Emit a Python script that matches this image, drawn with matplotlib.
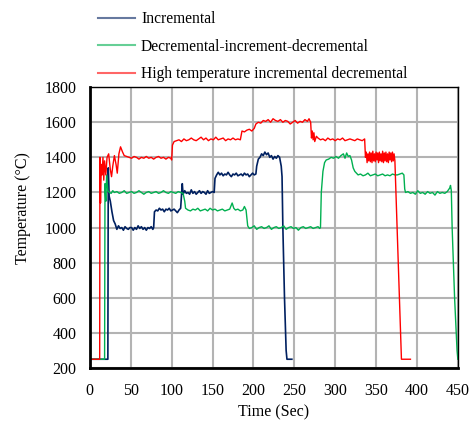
import matplotlib.pyplot as plt

plt.rcParams['font.family'] = ['Liberation Serif', 'DejaVu Serif']

# Incremental
inc_t = [0, 22, 22.5, 23.5, 25, 27, 29, 31, 33, 35, 37, 39, 41, 43, 45, 47, 49, 51, 53, 55, 57, 59,
         61, 63, 65, 67, 69, 71, 73, 75, 77, 78, 79, 81, 83, 85, 87, 89, 91, 93, 95, 97, 99, 101,
         103, 105, 107, 109, 111, 112, 113, 114, 116, 118, 120, 122, 124, 126, 128, 130, 132, 134,
         136, 138, 140, 142, 144, 146, 148, 150, 152, 153, 155, 157, 159, 161, 163, 165, 167, 169,
         171, 173, 175, 177, 179, 181, 183, 185, 187, 189, 191, 193, 195, 197, 199, 201, 203, 204,
         206, 208, 210, 212, 214, 216, 218, 220, 222, 224, 226, 228, 230, 232, 234, 235, 236, 238,
         240, 241, 247]
inc_v = [250, 250, 1340, 1180, 1150, 1090, 1040, 1020, 990, 1010, 995, 1000, 985, 1005, 995, 990,
         1000, 1000, 985, 1000, 990, 1010, 995, 1005, 990, 1000, 985, 1000, 995, 1005, 990, 1000,
         1090, 1100, 1095, 1110, 1100, 1105, 1090, 1105, 1100, 1110, 1095, 1100, 1105, 1095, 1085,
         1100, 1110, 1180, 1250, 1190, 1210, 1195, 1200, 1190, 1215, 1195, 1205, 1190, 1200, 1210,
         1195, 1205, 1200, 1190, 1210, 1195, 1200, 1205, 1200, 1280, 1300, 1315, 1300, 1310, 1295,
         1305, 1300, 1315, 1300, 1290, 1305, 1300, 1310, 1295, 1300, 1305, 1295, 1310, 1300, 1305,
         1290, 1300, 1310, 1300, 1305, 1350, 1390, 1400, 1420, 1410, 1430, 1415, 1425, 1400, 1410,
         1390, 1405, 1395, 1410, 1400, 1350, 1290, 1000, 600, 300, 250, 250]

# Decremental-increment-decremental
dec_t = [0, 18, 18.5, 19.5, 20.5, 22, 24, 26, 28, 30, 33, 36, 39, 42, 45, 48, 51, 54, 57, 60, 63,
         66, 69, 72, 75, 78, 81, 84, 87, 90, 93, 96, 99, 102, 105, 108, 111, 114, 116, 117, 120,
         123, 126, 129, 132, 135, 138, 141, 144, 147, 150, 153, 156, 159, 162, 165, 168, 171, 174,
         176, 178, 181, 184, 187, 189, 191, 193, 195, 198, 201, 204, 207, 210, 213, 216, 219, 222,
         225, 228, 231, 234, 237, 240, 243, 246, 249, 252, 255, 258, 261, 264, 267, 270, 273, 276,
         279, 281, 282, 283, 285, 287, 289, 292, 295, 298, 301, 304, 307, 310, 312, 314, 316, 318,
         320, 322, 324, 326, 328, 331, 334, 337, 340, 343, 346, 349, 352, 355, 358, 361, 364, 367,
         370, 373, 376, 379, 382, 384, 385, 386, 389, 392, 395, 398, 401, 404, 407, 410, 413, 416,
         419, 422, 425, 428, 431, 434, 437, 440, 441, 442, 443, 446, 449, 450]
dec_v = [250, 250, 1250, 1150, 1300, 1210, 1200, 1195, 1210, 1200, 1205, 1195, 1200, 1210, 1195,
         1200, 1205, 1195, 1200, 1210, 1200, 1190, 1200, 1205, 1195, 1200, 1205, 1195, 1200, 1210,
         1200, 1195, 1205, 1200, 1195, 1205, 1200, 1195, 1150, 1110, 1100, 1095, 1105, 1100, 1110,
         1095, 1100, 1105, 1095, 1110, 1100, 1105, 1095, 1100, 1105, 1095, 1100, 1105, 1140, 1110,
         1100, 1105, 1095, 1100, 1120, 1100, 1010, 995, 1000, 1010, 990, 1000, 1005, 995, 1000,
         1010, 990, 1000, 1005, 995, 1000, 1010, 990, 1000, 1005, 995, 1000, 985, 1000, 1005, 995,
         1000, 1005, 995, 1000, 1005, 995, 1000, 1200, 1320, 1370, 1385, 1390, 1400, 1395, 1405,
         1395, 1410, 1420, 1395, 1425, 1405, 1410, 1385, 1340, 1320, 1310, 1300, 1305, 1295, 1300,
         1310, 1295, 1300, 1305, 1295, 1300, 1305, 1295, 1300, 1295, 1305, 1300, 1300, 1305, 1310,
         1300, 1220, 1200, 1205, 1195, 1200, 1190, 1210, 1195, 1200, 1190, 1205, 1195, 1200, 1185,
         1205, 1195, 1200, 1195, 1205, 1225, 1240, 1210, 1000, 600, 300, 250]

# High temperature incremental decremental
hi_t = [0, 12, 12.3, 13, 14, 15, 16, 17, 18, 19.5, 21, 23, 25, 26.5, 28, 30, 32, 33.5, 35.5, 37.5,
        40, 42, 45, 48, 51, 54, 57, 60, 63, 66, 69, 72, 75, 78, 81, 84, 87, 90, 93, 96, 99, 100,
        101, 103, 106, 109, 112, 115, 118, 121, 124, 127, 130, 133, 136, 139, 142, 145, 148, 151,
        154, 157, 160, 163, 166, 169, 172, 175, 178, 181, 184, 186, 189, 192, 195, 198, 201, 203,
        206, 209, 212, 215, 218, 221, 224, 227, 230, 233, 236, 239, 242, 245, 248, 251, 254, 257,
        260, 263, 266, 268, 270, 271, 272, 273, 274, 275, 277, 279, 282, 285, 288, 291, 294, 297,
        300, 303, 306, 309, 312, 315, 318, 321, 324, 327, 330, 333, 336, 337, 338, 339, 340, 341,
        342, 343, 344, 345, 346, 347, 348, 349, 350, 351, 352, 353, 354, 355, 356, 357, 358, 359,
        360, 361, 362, 363, 364, 365, 366, 367, 368, 369, 370, 371, 372, 373, 381, 392]
hi_v = [250, 250, 1400, 1140, 1360, 1300, 1400, 1270, 1380, 1300, 1400, 1420, 1330, 1290, 1350,
        1410, 1360, 1310, 1420, 1460, 1430, 1410, 1405, 1400, 1395, 1405, 1400, 1390, 1400, 1395,
        1405, 1395, 1400, 1390, 1400, 1405, 1395, 1400, 1390, 1400, 1395, 1385, 1470, 1490, 1495,
        1500, 1490, 1505, 1495, 1500, 1510, 1500, 1495, 1505, 1515, 1500, 1510, 1495, 1505, 1500,
        1515, 1500, 1505, 1510, 1495, 1505, 1500, 1510, 1500, 1505, 1500, 1550, 1545, 1555, 1560,
        1550, 1565, 1590, 1600, 1595, 1610, 1605, 1615, 1600, 1620, 1610, 1605, 1615, 1600, 1610,
        1605, 1590, 1600, 1610, 1595, 1605, 1600, 1615, 1605, 1620, 1600, 1510, 1550, 1500, 1540,
        1490, 1520, 1510, 1500, 1505, 1495, 1510, 1500, 1505, 1495, 1505, 1500, 1510, 1495, 1500,
        1505, 1500, 1495, 1505, 1500, 1495, 1505, 1400, 1430, 1370, 1420, 1380, 1430, 1375, 1425,
        1370, 1435, 1380, 1420, 1375, 1430, 1385, 1425, 1370, 1430, 1380, 1420, 1375, 1435, 1370,
        1425, 1380, 1430, 1375, 1420, 1370, 1430, 1385, 1425, 1375, 1430, 1380, 1420, 1380,
        250, 250]

fig = plt.figure(figsize=(4.73, 4.23), dpi=100)
ax = fig.add_axes([0.190, 0.130, 0.778, 0.664])

l1, = ax.plot(inc_t, inc_v, color='#002060', lw=1.2, label='Incremental')
l2, = ax.plot(dec_t, dec_v, color='#00b050', lw=1.0, label='Decremental-increment-decremental')
l3, = ax.plot(hi_t, hi_v, color='#ff0000', lw=1.0, label='High temperature incremental decremental')

ax.set_xlim(0, 450)
ax.set_ylim(200, 1800)
ax.set_xticks(range(0, 451, 50))
ax.set_yticks(range(200, 1801, 200))
ax.grid(True, color='#b3b3b3', lw=1.5)
ax.set_axisbelow(True)
ax.tick_params(labelsize=11.5, length=0)
ax.tick_params(axis='x', pad=11)
ax.tick_params(axis='y', pad=9.5)
for side in ['left', 'bottom']:
    ax.spines[side].set_linewidth(2)
for side in ['top', 'right']:
    ax.spines[side].set_linewidth(1)
ax.set_xlabel('Time (Sec)', fontsize=11.5)
ax.set_ylabel('Temperature (°C)', fontsize=11.5)
ax.xaxis.set_label_coords(0.5, -0.128)
ax.yaxis.set_label_coords(-0.16, 0.57)

leg = fig.legend(handles=[l1, l2, l3], loc='upper left', bbox_to_anchor=(0.178, 1.007),
                 frameon=False, fontsize=11.2, handlelength=2.35, labelspacing=0.75,
                 handletextpad=0.4)
for h in leg.legend_handles:
    h.set_linewidth(1.5)
    h.set_alpha(0.6)

fig.savefig('out.png', dpi=100)
